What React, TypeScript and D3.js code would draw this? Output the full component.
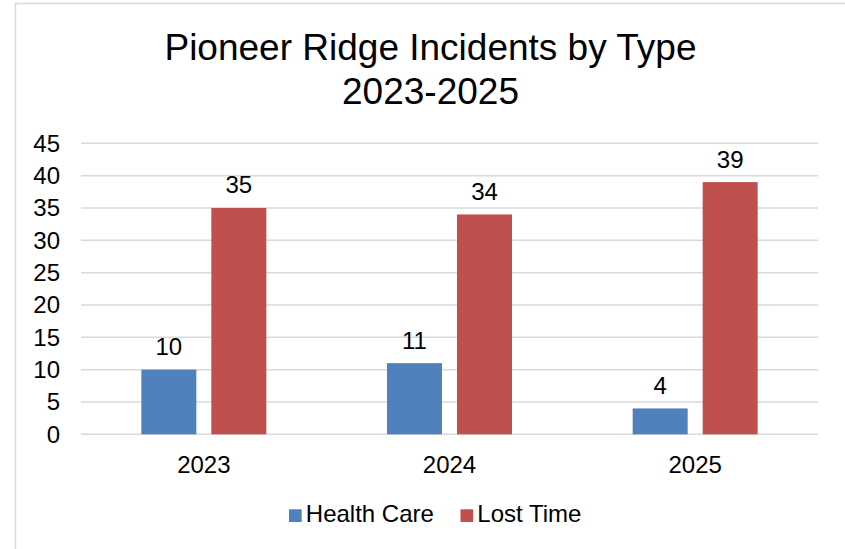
import React from "react";
import * as d3 from "d3";

const categories = ["2023", "2024", "2025"];
const seriesNames = ["Health Care", "Lost Time"];
const healthCare = [10, 11, 4];
const lostTime = [35, 34, 39];
const yTicks = [0, 5, 10, 15, 20, 25, 30, 35, 40, 45];
const titleLines = ["Pioneer Ridge Incidents by Type", "2023-2025"];
const colors = ["#4f81bd", "#c0504d"];

const W = 845;
const H = 549;
const FONT = "'Liberation Sans', Arial, sans-serif";

export default function App() {
  const plotLeft = 81;
  const plotRight = 818;
  const plotTop = 143.3;
  const plotBottom = 434.3;

  const x0 = d3.scaleBand<string>().domain(categories).range([plotLeft, plotRight]).padding(0);
  const y = d3.scaleLinear().domain([0, 45]).range([plotBottom, plotTop]);
  const seriesValues = [healthCare, lostTime];

  const groupW = 125;
  const x1 = d3
    .scaleBand<string>()
    .domain(seriesNames)
    .range([0, groupW])
    .paddingInner(15 / 70)
    .paddingOuter(0);

  const cx = 430.5;

  return (
    <svg
      width={W}
      height={H}
      style={{ position: "absolute", left: 0, top: 0, background: "#fff" }}
      fontFamily={FONT}
    >
      <rect x={15.5} y={3.5} width={840} height={560} fill="#fff" stroke="#d9d9d9" strokeWidth={1.5} />
      {titleLines.map((t, i) => (
        <text key={i} x={cx} y={60 + i * 44} textAnchor="middle" fontSize={37} fill="#000">
          {t}
        </text>
      ))}
      {yTicks.map((t) => (
        <g key={t}>
          <line x1={plotLeft} x2={plotRight} y1={y(t)} y2={y(t)} stroke="#d9d9d9" strokeWidth={1.5} />
          <text x={60} y={y(t)} dy="0.35em" textAnchor="end" fontSize={24} fill="#000">
            {t}
          </text>
        </g>
      ))}
      {categories.map((c, ci) => {
        const gx = (x0(c) as number) + x0.bandwidth() / 2 - groupW / 2;
        return (
          <g key={c}>
            {seriesNames.map((s, si) => {
              const v = seriesValues[si][ci];
              const bx = gx + (x1(s) as number);
              return (
                <g key={s}>
                  <rect
                    x={bx}
                    y={y(v)}
                    width={x1.bandwidth()}
                    height={y(0) - y(v)}
                    fill={colors[si]}
                  />
                  <text
                    x={bx + x1.bandwidth() / 2}
                    y={y(v) - 14.5}
                    textAnchor="middle"
                    fontSize={24}
                    fill="#000"
                  >
                    {v}
                  </text>
                </g>
              );
            })}
            <text
              x={(x0(c) as number) + x0.bandwidth() / 2}
              y={464.3}
              dy="0.35em"
              textAnchor="middle"
              fontSize={24}
              fill="#000"
            >
              {c}
            </text>
          </g>
        );
      })}
      {(() => {
        const items = [
          { name: seriesNames[0], color: colors[0], sx: 289 },
          { name: seriesNames[1], color: colors[1], sx: 460.5 },
        ];
        return items.map((it) => (
          <g key={it.name}>
            <rect x={it.sx} y={509.3} width={12.7} height={12.7} fill={it.color} />
            <text x={it.sx + 16.8} y={522.3} fontSize={24} fill="#000">
              {it.name}
            </text>
          </g>
        ));
      })()}
    </svg>
  );
}
